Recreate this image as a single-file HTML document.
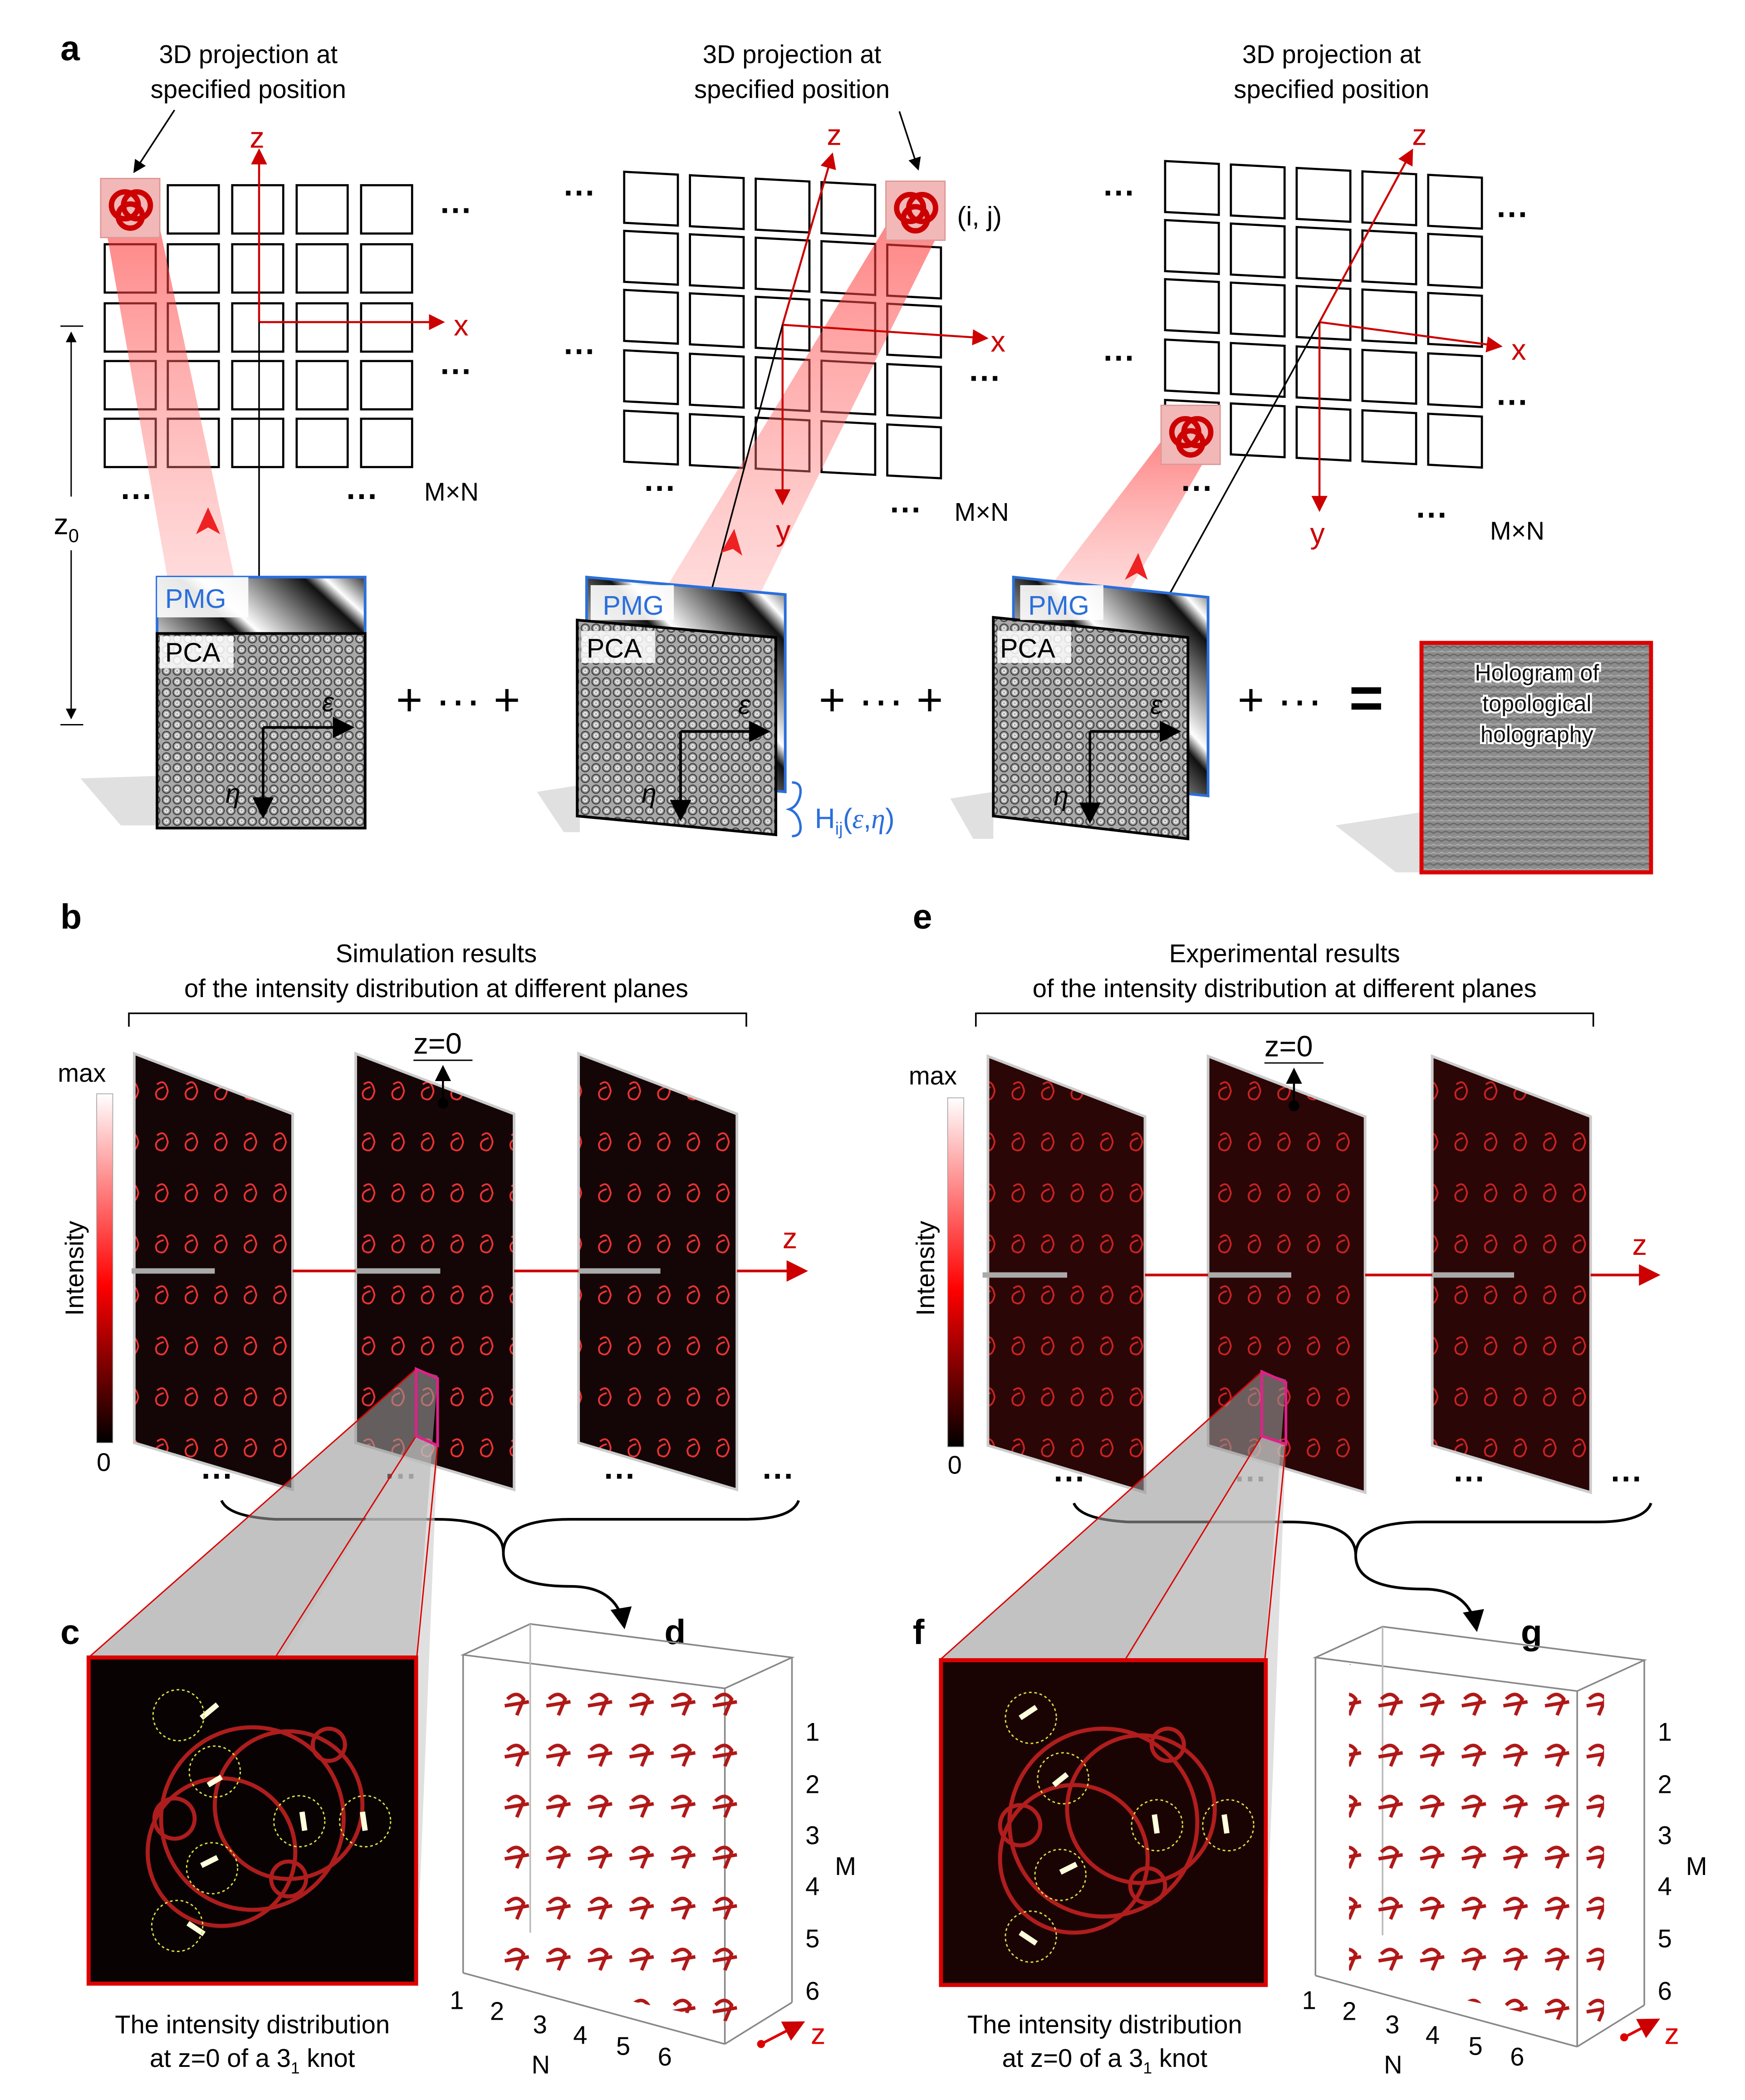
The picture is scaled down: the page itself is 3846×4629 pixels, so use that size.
<!DOCTYPE html>
<html><head><meta charset="utf-8"><style>
html,body{margin:0;padding:0;background:#fff}
svg{display:block}
text{font-family:"Liberation Sans",sans-serif}
</style></head><body>
<svg width="3846" height="4629" viewBox="0 0 1300 1564.7" xmlns="http://www.w3.org/2000/svg">
<defs>
 <pattern id="pca" width="8" height="8" patternUnits="userSpaceOnUse">
  <rect width="8" height="8" fill="#a8a8a8"/>
  <circle cx="4" cy="4" r="3" fill="none" stroke="#444" stroke-width="0.9"/>
  <circle cx="4" cy="4" r="1.2" fill="none" stroke="#f2f2f2" stroke-width="0.8"/>
 </pattern>
 <pattern id="holo" width="6" height="6" patternUnits="userSpaceOnUse">
  <rect width="6" height="6" fill="#8c8c8c"/>
  <path d="M0 3 Q3 0 6 3" stroke="#6a6a6a" fill="none" stroke-width="1"/>
  <path d="M0 5 Q3 7 6 5" stroke="#b0b0b0" fill="none" stroke-width="0.8"/>
 </pattern>
 <linearGradient id="pmg" x1="0" y1="1" x2="1" y2="0">
  <stop offset="0" stop-color="#fff"/><stop offset="0.25" stop-color="#222"/>
  <stop offset="0.3" stop-color="#fff"/><stop offset="0.55" stop-color="#111"/>
  <stop offset="0.6" stop-color="#fff"/><stop offset="0.85" stop-color="#111"/>
  <stop offset="0.9" stop-color="#fff"/><stop offset="1" stop-color="#333"/>
 </linearGradient>
 <linearGradient id="beam" x1="0" y1="0" x2="0" y2="1">
  <stop offset="0" stop-color="#f33" stop-opacity="0.6"/>
  <stop offset="1" stop-color="#f99" stop-opacity="0.35"/>
 </linearGradient>
 <linearGradient id="cmap" x1="0" y1="0" x2="0" y2="1">
  <stop offset="0" stop-color="#fff"/><stop offset="0.55" stop-color="#f00"/>
  <stop offset="1" stop-color="#000"/>
 </linearGradient>
 <pattern id="knots" width="22" height="38" patternUnits="userSpaceOnUse">
  <rect width="22" height="38" fill="#140606"/>
  <path d="M7 10 q6 -5 8 5 q-2 9 -8 5 q-3 -6 5 -8" fill="none" stroke="#e33" stroke-width="1.3"/>
 </pattern>
 <pattern id="knotsE" width="22" height="38" patternUnits="userSpaceOnUse">
  <rect width="22" height="38" fill="#2a0606"/>
  <path d="M7 10 q6 -5 8 5 q-2 9 -8 5 q-3 -6 5 -8" fill="none" stroke="#c22" stroke-width="1.3"/>
 </pattern>
 <pattern id="k3d" width="31" height="38" patternUnits="userSpaceOnUse">
  <path d="M6 12 q7 -7 12 0 l-5 12 M4 17 l18 -3" fill="none" stroke="#b01818" stroke-width="2.6"/>
 </pattern>
 <marker id="ar" markerWidth="8" markerHeight="8" refX="7" refY="4" orient="auto"><path d="M0 0 L8 4 L0 8z" fill="#c00"/></marker>
 <marker id="ak" markerWidth="8" markerHeight="8" refX="7" refY="4" orient="auto"><path d="M0 0 L8 4 L0 8z" fill="#000"/></marker>
 <g id="cube">
  <rect x="0" y="0" width="44" height="44" fill="#f2b8b8" stroke="#d99"/>
  <circle cx="18" cy="20" r="10" fill="none" stroke="#c00" stroke-width="4"/>
  <circle cx="27" cy="20" r="10" fill="none" stroke="#c00" stroke-width="4"/>
  <circle cx="22" cy="28" r="9" fill="none" stroke="#c00" stroke-width="4"/>
 </g>
</defs>

<rect width="1300" height="1564.7" fill="#fff"/>

<text x="45" y="45" font-size="26" font-weight="bold">a</text>
<g font-size="19" text-anchor="middle">
 <text x="185" y="47">3D projection at</text><text x="185" y="73">specified position</text>
 <text x="590" y="47">3D projection at</text><text x="590" y="73">specified position</text>
 <text x="992" y="47">3D projection at</text><text x="992" y="73">specified position</text>
</g>

<!-- left grid -->
<g fill="#fff" stroke="#000" stroke-width="1.6">
 <g id="g1">
 <rect x="125" y="138" width="38" height="36"/><rect x="173" y="138" width="38" height="36"/><rect x="221" y="138" width="38" height="36"/><rect x="269" y="138" width="38" height="36"/>
 </g>
 <use href="#g1" y="44"/><use href="#g1" y="88"/><use href="#g1" y="131"/><use href="#g1" y="174"/>
 <rect x="78" y="182" width="38" height="36"/><rect x="78" y="226" width="38" height="36"/><rect x="78" y="269" width="38" height="36"/><rect x="78" y="312" width="38" height="36"/>
</g>
<!-- middle grid -->
<g transform="translate(465,128) skewY(3)" fill="#fff" stroke="#000" stroke-width="1.6">
 <g id="g2">
 <rect x="0" y="0" width="40" height="38"/><rect x="49" y="0" width="40" height="38"/><rect x="98" y="0" width="40" height="38"/><rect x="147" y="0" width="40" height="38"/><rect x="196" y="0" width="40" height="38"/>
 </g>
 <use href="#g2" y="44"/><use href="#g2" y="88"/><use href="#g2" y="133"/><use href="#g2" y="178"/>
</g>
<!-- right grid -->
<g transform="translate(868,120) skewY(3)" fill="#fff" stroke="#000" stroke-width="1.6">
 <g id="g3">
 <rect x="0" y="0" width="40" height="38"/><rect x="49" y="0" width="40" height="38"/><rect x="98" y="0" width="40" height="38"/><rect x="147" y="0" width="40" height="38"/><rect x="196" y="0" width="40" height="38"/>
 </g>
 <use href="#g3" y="44"/><use href="#g3" y="88"/><use href="#g3" y="133"/><use href="#g3" y="178"/>
</g>

<!-- beams over grid -->
<polygon points="78,165 118,165 175,432 125,432" fill="url(#beam)"/>
<polygon points="662,165 700,172 565,445 495,440" fill="url(#beam)"/>
<polygon points="868,325 905,330 840,442 780,440" fill="url(#beam)"/>

<use href="#cube" x="75" y="133"/>
<line x1="193" y1="240" x2="193" y2="112" stroke="#c00" stroke-width="1.5" marker-end="url(#ar)"/>
<line x1="193" y1="240" x2="330" y2="240" stroke="#c00" stroke-width="1.5" marker-end="url(#ar)"/>
<line x1="193" y1="240" x2="193" y2="440" stroke="#000" stroke-width="1.2"/>
<text x="186" y="110" font-size="22" fill="#c00">z</text>
<text x="338" y="250" font-size="22" fill="#c00">x</text>
<line x1="130" y1="82" x2="100" y2="128" stroke="#000" stroke-width="1.2" marker-end="url(#ak)"/>
<g font-size="24" font-weight="bold"><text x="328" y="165">···</text><text x="328" y="285">···</text><text x="90" y="378">···</text><text x="258" y="378">···</text></g>
<text x="316" y="373" font-size="19">M×N</text>
<line x1="45" y1="243" x2="62" y2="243" stroke="#000"/><line x1="45" y1="540" x2="62" y2="540" stroke="#000"/>
<line x1="53" y1="370" x2="53" y2="248" stroke="#000" marker-end="url(#ak)"/>
<line x1="53" y1="410" x2="53" y2="535" stroke="#000" marker-end="url(#ak)"/>
<text x="40" y="398" font-size="22">z<tspan font-size="14" dy="6">0</tspan></text>
<path d="M146 398 l9 -20 l9 20 l-9 -5z" fill="#e22"/>

<use href="#cube" x="660" y="135"/>
<text x="713" y="168" font-size="20">(i, j)</text>
<line x1="583" y1="242" x2="620" y2="115" stroke="#c00" stroke-width="1.5" marker-end="url(#ar)"/>
<line x1="583" y1="242" x2="735" y2="252" stroke="#c00" stroke-width="1.5" marker-end="url(#ar)"/>
<line x1="583" y1="242" x2="583" y2="375" stroke="#c00" stroke-width="1.5" marker-end="url(#ar)"/>
<line x1="583" y1="242" x2="530" y2="440" stroke="#000" stroke-width="1.2"/>
<text x="616" y="108" font-size="22" fill="#c00">z</text>
<text x="738" y="262" font-size="22" fill="#c00">x</text>
<text x="578" y="403" font-size="22" fill="#c00">y</text>
<line x1="670" y1="83" x2="684" y2="126" stroke="#000" stroke-width="1.2" marker-end="url(#ak)"/>
<g font-size="24" font-weight="bold"><text x="420" y="152">···</text><text x="420" y="270">···</text><text x="722" y="290">···</text><text x="480" y="372">···</text><text x="663" y="388">···</text></g>
<text x="711" y="388" font-size="19">M×N</text>
<path d="M537 412 l10 -18 l6 20 l-7 -5z" fill="#e22"/>

<use href="#cube" x="865" y="302"/>
<line x1="983" y1="240" x2="1052" y2="112" stroke="#c00" stroke-width="1.5" marker-end="url(#ar)"/>
<line x1="983" y1="240" x2="1118" y2="258" stroke="#c00" stroke-width="1.5" marker-end="url(#ar)"/>
<line x1="983" y1="240" x2="983" y2="380" stroke="#c00" stroke-width="1.5" marker-end="url(#ar)"/>
<line x1="983" y1="240" x2="870" y2="445" stroke="#000" stroke-width="1.2"/>
<text x="1052" y="108" font-size="22" fill="#c00">z</text>
<text x="1126" y="268" font-size="22" fill="#c00">x</text>
<text x="976" y="405" font-size="22" fill="#c00">y</text>
<g font-size="24" font-weight="bold"><text x="822" y="152">···</text><text x="1115" y="168">···</text><text x="822" y="275">···</text><text x="1115" y="308">···</text><text x="880" y="372">···</text><text x="1055" y="392">···</text></g>
<text x="1110" y="402" font-size="19">M×N</text>
<path d="M838 432 l10 -20 l7 20 l-8 -5z" fill="#e22"/>

<!-- holograms a -->
<polygon points="60,580 120,578 120,615 90,615" fill="#ccc" opacity="0.6"/>
<rect x="117" y="430" width="155" height="143" fill="url(#pmg)" stroke="#2a6fdb" stroke-width="2"/>
<rect x="117" y="472" width="155" height="145" fill="url(#pca)" stroke="#000" stroke-width="2"/>
<rect x="117" y="430" width="68" height="30" fill="#fff" opacity="0.9"/>
<text x="123" y="453" font-size="20" fill="#2a6fdb">PMG</text>
<rect x="119" y="474" width="55" height="24" fill="#fff" opacity="0.85"/>
<text x="123" y="493" font-size="20">PCA</text>
<line x1="196" y1="542" x2="262" y2="542" stroke="#000" stroke-width="2" marker-end="url(#ak)"/>
<line x1="196" y1="542" x2="196" y2="608" stroke="#000" stroke-width="2" marker-end="url(#ak)"/>
<text x="240" y="530" font-size="20" font-style="italic" font-family="Liberation Serif">ε</text>
<text x="168" y="598" font-size="20" font-style="italic" font-family="Liberation Serif">η</text>

<text x="295" y="533" font-size="34">+ ··· +</text>

<polygon points="400,590 432,585 432,620 420,620" fill="#ccc" opacity="0.6"/>
<polygon points="437,430 585,443 585,590 437,577" fill="url(#pmg)" stroke="#2a6fdb" stroke-width="2"/>
<polygon points="430,462 578,475 578,622 430,608" fill="url(#pca)" stroke="#000" stroke-width="2"/>
<rect x="440" y="436" width="62" height="26" fill="#fff" opacity="0.9"/>
<text x="449" y="458" font-size="20" fill="#2a6fdb">PMG</text>
<rect x="433" y="470" width="55" height="24" fill="#fff" opacity="0.85"/>
<text x="437" y="490" font-size="20">PCA</text>
<line x1="507" y1="545" x2="572" y2="545" stroke="#000" stroke-width="2" marker-end="url(#ak)"/>
<line x1="507" y1="545" x2="507" y2="610" stroke="#000" stroke-width="2" marker-end="url(#ak)"/>
<text x="550" y="532" font-size="20" font-style="italic" font-family="Liberation Serif">ε</text>
<text x="478" y="598" font-size="20" font-style="italic" font-family="Liberation Serif">η</text>
<path d="M590 583 q8 0 6 10 q-2 8 -8 10 q6 2 8 10 q2 10 -6 10" fill="none" stroke="#2a6fdb" stroke-width="1.8"/>
<text x="607" y="617" font-size="21" fill="#2a6fdb">H<tspan font-size="13" dy="5">ij</tspan><tspan dy="-5">(</tspan><tspan font-style="italic" font-family="Liberation Serif">ε</tspan>,<tspan font-style="italic" font-family="Liberation Serif">η</tspan>)</text>

<text x="610" y="533" font-size="34">+ ··· +</text>

<polygon points="708,595 740,590 740,625 725,625" fill="#ccc" opacity="0.6"/>
<polygon points="755,430 900,445 900,593 755,578" fill="url(#pmg)" stroke="#2a6fdb" stroke-width="2"/>
<polygon points="740,460 885,475 885,625 740,608" fill="url(#pca)" stroke="#000" stroke-width="2"/>
<rect x="760" y="436" width="62" height="26" fill="#fff" opacity="0.9"/>
<text x="766" y="458" font-size="20" fill="#2a6fdb">PMG</text>
<rect x="743" y="470" width="55" height="24" fill="#fff" opacity="0.85"/>
<text x="745" y="490" font-size="20">PCA</text>
<line x1="812" y1="545" x2="878" y2="545" stroke="#000" stroke-width="2" marker-end="url(#ak)"/>
<line x1="812" y1="545" x2="812" y2="612" stroke="#000" stroke-width="2" marker-end="url(#ak)"/>
<text x="857" y="532" font-size="20" font-style="italic" font-family="Liberation Serif">ε</text>
<text x="785" y="600" font-size="20" font-style="italic" font-family="Liberation Serif">η</text>

<text x="922" y="533" font-size="34">+ ···</text>
<text x="1005" y="535" font-size="44" font-weight="bold">=</text>
<polygon points="995,615 1060,605 1060,650 1040,650" fill="#ccc" opacity="0.6"/>
<rect x="1059" y="479" width="171" height="171" fill="url(#holo)" stroke="#d00" stroke-width="3"/>
<g font-size="17" text-anchor="middle" fill="#111" stroke="#fff" stroke-width="3" paint-order="stroke">
 <text x="1145" y="507">Hologram of</text><text x="1145" y="530">topological</text><text x="1145" y="553">holography</text>
</g>

<!-- Panel b -->
<text x="45" y="692" font-size="26" font-weight="bold">b</text>
<g font-size="19" text-anchor="middle">
 <text x="325" y="717">Simulation results</text><text x="325" y="743">of the intensity distribution at different planes</text>
</g>
<path d="M96 765 v-10 H556 v10" fill="none" stroke="#000" stroke-width="1.2"/>
<text x="43" y="806" font-size="19">max</text>
<rect x="72" y="815" width="12" height="260" fill="url(#cmap)" stroke="#999" stroke-width="0.5"/>
<text x="72" y="1096" font-size="19">0</text>
<text x="62" y="945" font-size="19" transform="rotate(-90 62 945)" text-anchor="middle">Intensity</text>

<polygon points="100,785 218,830 218,1110 100,1075" fill="url(#knots)" stroke="#ccc" stroke-width="2"/>
<polygon points="265,785 383,830 383,1110 265,1075" fill="url(#knots)" stroke="#ccc" stroke-width="2"/>
<polygon points="431,785 549,830 549,1110 431,1075" fill="url(#knots)" stroke="#ccc" stroke-width="2"/>
<line x1="98" y1="947" x2="160" y2="947" stroke="#aaa" stroke-width="4"/>
<line x1="218" y1="947" x2="265" y2="947" stroke="#c00" stroke-width="2"/>
<line x1="265" y1="947" x2="328" y2="947" stroke="#aaa" stroke-width="4"/>
<line x1="383" y1="947" x2="431" y2="947" stroke="#c00" stroke-width="2"/>
<line x1="431" y1="947" x2="492" y2="947" stroke="#aaa" stroke-width="4"/>
<line x1="549" y1="947" x2="600" y2="947" stroke="#c00" stroke-width="2" marker-end="url(#ar)"/>
<text x="583" y="930" font-size="22" fill="#c00">z</text>
<text x="308" y="785" font-size="22">z=0</text><line x1="308" y1="790" x2="352" y2="790" stroke="#000"/>
<line x1="330" y1="820" x2="330" y2="795" stroke="#000" stroke-width="1.5" marker-end="url(#ak)"/>
<circle cx="330" cy="822" r="4" fill="#000"/>
<g font-size="24" font-weight="bold"><text x="150" y="1108">···</text><text x="287" y="1108">···</text><text x="450" y="1108">···</text><text x="568" y="1108">···</text></g>
<path d="M165 1118 q5 12 40 14 h120 q50 0 50 25 q0 -25 50 -25 h130 q35 0 40 -14" fill="none" stroke="#000" stroke-width="2"/>
<path d="M375 1157 q0 25 50 25 q35 0 40 30" fill="none" stroke="#000" stroke-width="2" marker-end="url(#ak)"/>

<polygon points="310,1020 326,1025 310,1235 66,1235" fill="#999" opacity="0.6"/>
<polygon points="310,1070 326,1077 310,1478 210,1235" fill="#ccc" opacity="0.6"/>
<line x1="310" y1="1020" x2="66" y2="1235" stroke="#d00"/>
<line x1="310" y1="1070" x2="205" y2="1235" stroke="#d00"/>
<line x1="326" y1="1077" x2="310" y2="1240" stroke="#d00"/>
<polygon points="310,1020 326,1027 326,1077 310,1070" fill="none" stroke="#e0208a" stroke-width="2"/>

<text x="45" y="1225" font-size="26" font-weight="bold">c</text>
<rect x="66" y="1235" width="244" height="243" fill="#080202" stroke="#d00" stroke-width="3"/>
<g fill="none" stroke="#c22" stroke-width="3" opacity="0.85">
 <circle cx="188" cy="1355" r="68"/><circle cx="165" cy="1380" r="55"/><circle cx="215" cy="1345" r="55"/>
 <circle cx="130" cy="1355" r="15"/><circle cx="245" cy="1300" r="12"/><circle cx="215" cy="1400" r="13"/>
</g>
<g fill="none" stroke="#ffd" stroke-width="4"><path d="M150 1280 l12 -10"/><path d="M155 1330 l10 -6"/><path d="M225 1350 l2 14"/><path d="M270 1350 l2 14"/><path d="M150 1390 l12 -6"/><path d="M140 1433 l12 8"/></g>
<g fill="none" stroke="#dd4" stroke-width="1" stroke-dasharray="2 2">
 <circle cx="133" cy="1278" r="19"/><circle cx="160" cy="1320" r="19"/><circle cx="223" cy="1357" r="19"/><circle cx="272" cy="1357" r="19"/><circle cx="158" cy="1392" r="19"/><circle cx="132" cy="1435" r="19"/>
</g>
<g font-size="19" text-anchor="middle"><text x="188" y="1515">The intensity distribution</text><text x="188" y="1540">at z=0 of a 3<tspan font-size="12" dy="5">1</tspan><tspan dy="-5"> knot</tspan></text></g>

<text x="495" y="1225" font-size="26" font-weight="bold">d</text>
<g fill="none" stroke="#888" stroke-width="1.2">
 <path d="M345 1233 L395 1210 L590 1235 L540 1258 Z"/>
 <line x1="345" y1="1233" x2="345" y2="1470"/><line x1="540" y1="1258" x2="540" y2="1523"/>
 <line x1="590" y1="1235" x2="590" y2="1492"/><line x1="345" y1="1470" x2="540" y2="1523"/>
 <line x1="540" y1="1523" x2="590" y2="1492"/><line x1="395" y1="1210" x2="395" y2="1440" stroke="#bbb"/>
</g>
<polygon points="370,1240 560,1250 560,1510 370,1470" fill="url(#k3d)"/>
<g font-size="19"><text x="600" y="1297">1</text><text x="600" y="1336">2</text><text x="600" y="1374">3</text><text x="600" y="1412">4</text><text x="600" y="1451">5</text><text x="600" y="1490">6</text><text x="622" y="1397">M</text>
<text x="335" y="1497">1</text><text x="365" y="1505">2</text><text x="397" y="1515">3</text><text x="427" y="1523">4</text><text x="459" y="1531">5</text><text x="490" y="1539">6</text><text x="396" y="1545">N</text></g>
<line x1="567" y1="1523" x2="598" y2="1507" stroke="#d00" stroke-width="2" marker-end="url(#ar)"/><circle cx="567" cy="1523" r="3" fill="#d00"/>
<text x="604" y="1523" font-size="22" fill="#d00">z</text>

<!-- Panel e -->
<text x="680" y="692" font-size="26" font-weight="bold">e</text>
<g font-size="19" text-anchor="middle">
 <text x="957" y="717">Experimental results</text><text x="957" y="743">of the intensity distribution at different planes</text>
</g>
<path d="M727 765 v-10 H1187 v10" fill="none" stroke="#000" stroke-width="1.2"/>
<text x="677" y="808" font-size="19">max</text>
<rect x="706" y="818" width="12" height="260" fill="url(#cmap)" stroke="#999" stroke-width="0.5"/>
<text x="706" y="1098" font-size="19">0</text>
<text x="696" y="945" font-size="19" transform="rotate(-90 696 945)" text-anchor="middle">Intensity</text>

<polygon points="736,787 853,832 853,1112 736,1077" fill="url(#knotsE)" stroke="#ccc" stroke-width="2"/>
<polygon points="900,787 1017,832 1017,1112 900,1077" fill="url(#knotsE)" stroke="#ccc" stroke-width="2"/>
<polygon points="1067,787 1185,832 1185,1112 1067,1077" fill="url(#knotsE)" stroke="#ccc" stroke-width="2"/>
<line x1="732" y1="950" x2="795" y2="950" stroke="#aaa" stroke-width="4"/>
<line x1="853" y1="950" x2="900" y2="950" stroke="#c00" stroke-width="2"/>
<line x1="900" y1="950" x2="962" y2="950" stroke="#aaa" stroke-width="4"/>
<line x1="1017" y1="950" x2="1067" y2="950" stroke="#c00" stroke-width="2"/>
<line x1="1067" y1="950" x2="1128" y2="950" stroke="#aaa" stroke-width="4"/>
<line x1="1185" y1="950" x2="1235" y2="950" stroke="#c00" stroke-width="2" marker-end="url(#ar)"/>
<text x="1216" y="935" font-size="22" fill="#c00">z</text>
<text x="942" y="787" font-size="22">z=0</text><line x1="942" y1="792" x2="986" y2="792" stroke="#000"/>
<line x1="964" y1="822" x2="964" y2="797" stroke="#000" stroke-width="1.5" marker-end="url(#ak)"/>
<circle cx="964" cy="824" r="4" fill="#000"/>
<g font-size="24" font-weight="bold"><text x="785" y="1110">···</text><text x="920" y="1110">···</text><text x="1083" y="1110">···</text><text x="1200" y="1110">···</text></g>
<path d="M800 1120 q5 12 40 14 h120 q50 0 50 25 q0 -25 50 -25 h130 q35 0 40 -14" fill="none" stroke="#000" stroke-width="2"/>
<path d="M1010 1159 q0 25 50 25 q35 0 40 30" fill="none" stroke="#000" stroke-width="2" marker-end="url(#ak)"/>

<polygon points="940,1022 958,1028 942,1237 700,1237" fill="#999" opacity="0.6"/>
<polygon points="940,1070 958,1076 942,1480 840,1237" fill="#ccc" opacity="0.6"/>
<line x1="940" y1="1022" x2="700" y2="1237" stroke="#d00"/>
<line x1="940" y1="1070" x2="838" y2="1237" stroke="#d00"/>
<line x1="958" y1="1076" x2="942" y2="1240" stroke="#d00"/>
<polygon points="940,1022 958,1030 958,1076 940,1070" fill="none" stroke="#e0208a" stroke-width="2"/>

<text x="680" y="1225" font-size="26" font-weight="bold">f</text>
<rect x="701" y="1237" width="242" height="242" fill="#1a0403" stroke="#d00" stroke-width="3"/>
<g fill="none" stroke="#c22" stroke-width="3" opacity="0.85">
 <circle cx="822" cy="1358" r="70"/><circle cx="800" cy="1385" r="55"/><circle cx="850" cy="1348" r="55"/>
 <circle cx="760" cy="1360" r="15"/><circle cx="870" cy="1300" r="12"/><circle cx="855" cy="1405" r="13"/>
</g>
<g fill="none" stroke="#ffd" stroke-width="4"><path d="M760 1280 l12 -8"/><path d="M785 1330 l10 -8"/><path d="M860 1352 l2 14"/><path d="M912 1352 l2 14"/><path d="M790 1395 l12 -6"/><path d="M760 1440 l12 8"/></g>
<g fill="none" stroke="#dd4" stroke-width="1" stroke-dasharray="2 2">
 <circle cx="768" cy="1280" r="19"/><circle cx="792" cy="1325" r="19"/><circle cx="862" cy="1360" r="19"/><circle cx="915" cy="1360" r="19"/><circle cx="790" cy="1397" r="19"/><circle cx="768" cy="1443" r="19"/>
</g>
<g font-size="19" text-anchor="middle"><text x="823" y="1515">The intensity distribution</text><text x="823" y="1540">at z=0 of a 3<tspan font-size="12" dy="5">1</tspan><tspan dy="-5"> knot</tspan></text></g>

<text x="1133" y="1225" font-size="26" font-weight="bold">g</text>
<g fill="none" stroke="#888" stroke-width="1.2">
 <path d="M980 1235 L1030 1212 L1225 1237 L1175 1260 Z"/>
 <line x1="980" y1="1235" x2="980" y2="1472"/><line x1="1175" y1="1260" x2="1175" y2="1525"/>
 <line x1="1225" y1="1237" x2="1225" y2="1494"/><line x1="980" y1="1472" x2="1175" y2="1525"/>
 <line x1="1175" y1="1525" x2="1225" y2="1494"/><line x1="1030" y1="1212" x2="1030" y2="1442" stroke="#bbb"/>
</g>
<polygon points="1005,1240 1195,1252 1195,1512 1005,1472" fill="url(#k3d)"/>
<g font-size="19"><text x="1235" y="1297">1</text><text x="1235" y="1336">2</text><text x="1235" y="1374">3</text><text x="1235" y="1412">4</text><text x="1235" y="1451">5</text><text x="1235" y="1490">6</text><text x="1256" y="1397">M</text>
<text x="970" y="1497">1</text><text x="1000" y="1505">2</text><text x="1032" y="1515">3</text><text x="1062" y="1523">4</text><text x="1094" y="1531">5</text><text x="1125" y="1539">6</text><text x="1031" y="1545">N</text></g>
<line x1="1210" y1="1518" x2="1235" y2="1505" stroke="#d00" stroke-width="2" marker-end="url(#ar)"/><circle cx="1210" cy="1518" r="3" fill="#d00"/>
<text x="1240" y="1523" font-size="22" fill="#d00">z</text>
</svg>
</body></html>
